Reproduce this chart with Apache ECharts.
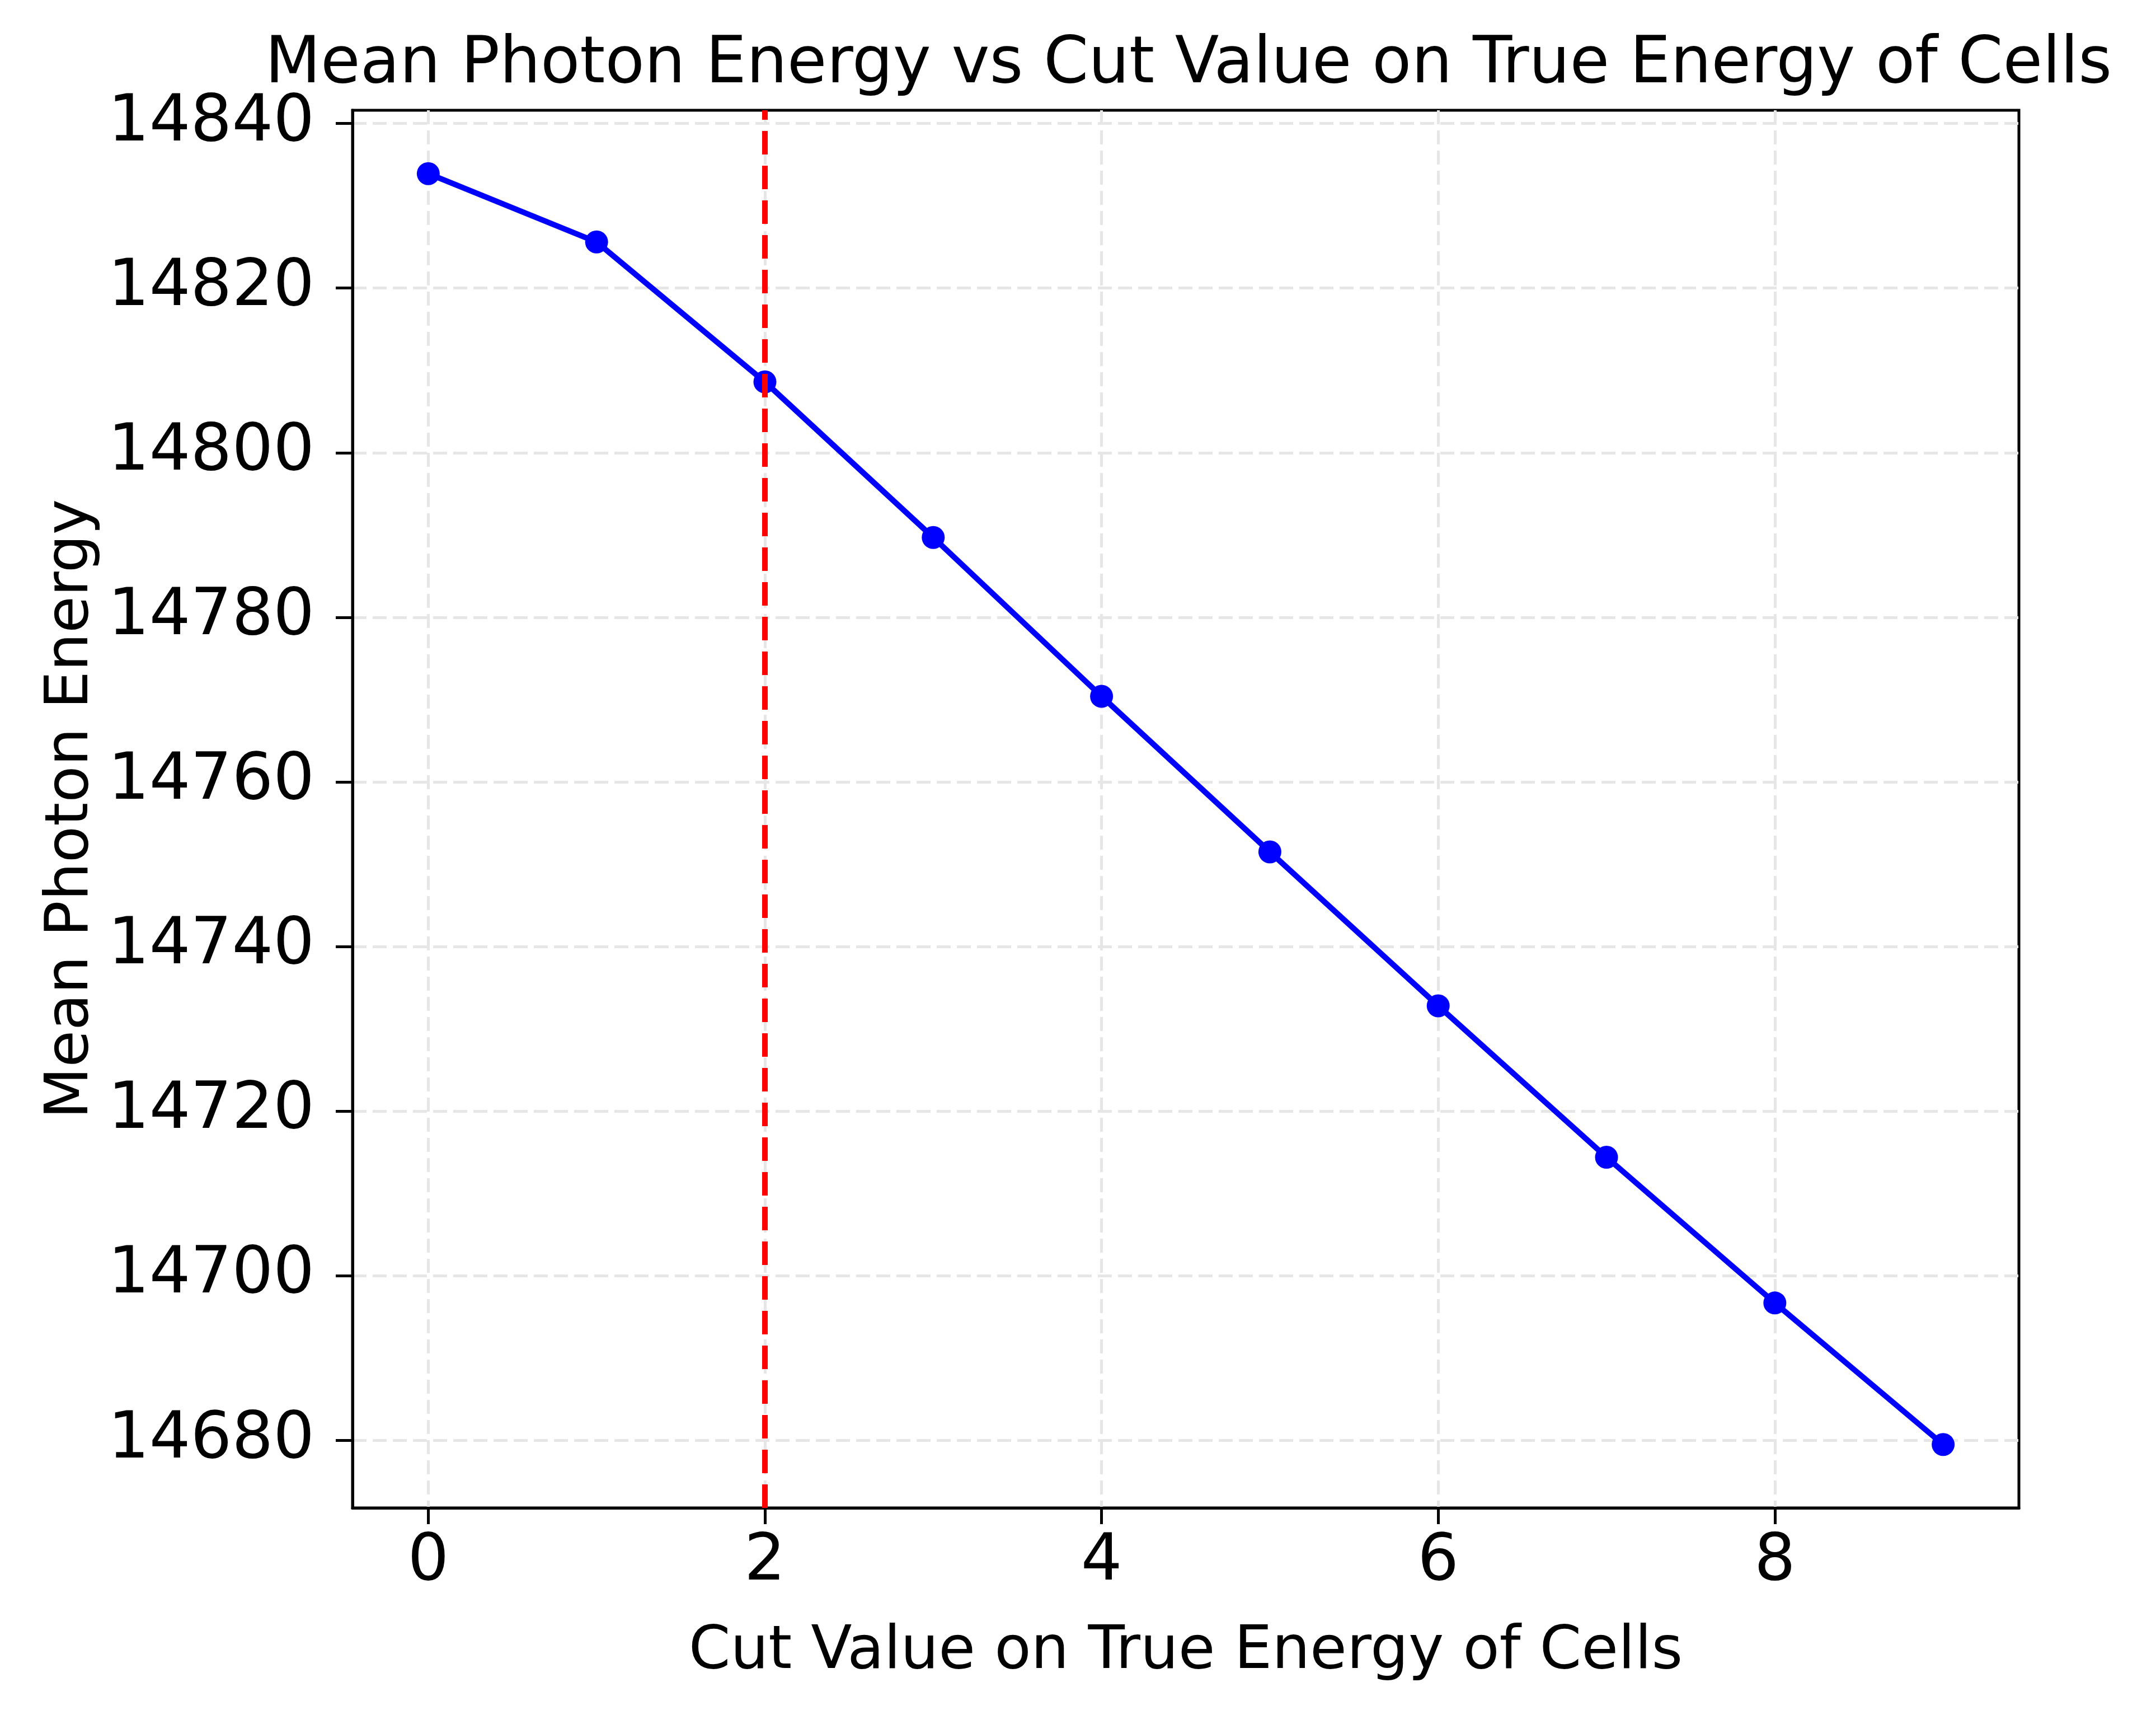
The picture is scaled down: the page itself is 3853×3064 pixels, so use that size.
<!DOCTYPE html>
<html>
<head>
<meta charset="utf-8">
<title>Mean Photon Energy vs Cut Value</title>
<script src="https://cdn.jsdelivr.net/npm/echarts@6/dist/echarts.min.js"></script>
<style>
    html, body { margin: 0; padding: 0; background: #fff; }
    #chart { width: 3853px; height: 3064px; }
</style>
</head>
<body>
<div id="chart"></div>
<script>
// values
const cutValues = [0, 1, 2, 3, 4, 5, 6, 7, 8, 9];
const meanEnergy = [14833.9, 14825.6, 14808.6, 14789.7, 14770.4, 14751.5, 14732.8, 14714.4, 14696.7, 14679.5];
const xTicks = [0, 2, 4, 6, 8];
const yTicks = [14680, 14700, 14720, 14740, 14760, 14780, 14800, 14820, 14840];
const chosenCut = 2;

const points = cutValues.map(function (x, i) {
    return [x, meanEnergy[i]];
});

const chart = echarts.init(document.getElementById('chart'));

const gridLine = {
    show: true,
    lineStyle: { color: '#e6e6e6', width: 5, type: [25, 11] }
};

chart.setOption({
    animation: false,
    backgroundColor: '#ffffff',
    textStyle: { fontFamily: 'DejaVu Sans', color: '#000' },
    title: {
        text: 'Mean Photon Energy vs Cut Value on True Energy of Cells',
        left: 2119,
        top: 55,
        textAlign: 'center',
        textStyle: { fontFamily: 'DejaVu Sans', fontWeight: 'normal', fontSize: 115, color: '#000' }
    },
    grid: {
        left: 630,
        right: 245,
        top: 197,
        bottom: 370,
        show: true,
        borderColor: '#000',
        borderWidth: 5
    },
    xAxis: {
        type: 'value',
        min: -0.45,
        max: 9.45,
        name: 'Cut Value on True Energy of Cells',
        nameLocation: 'middle',
        nameGap: 205,
        nameTextStyle: { fontSize: 107, color: '#000' },
        axisLine: { show: true, onZero: false, lineStyle: { color: '#000', width: 5 } },
        axisTick: { show: true, length: 29, lineStyle: { color: '#000', width: 5 }, customValues: xTicks },
        axisLabel: { fontSize: 116, color: '#000', margin: 40, customValues: xTicks },
        splitLine: gridLine
    },
    yAxis: {
        type: 'value',
        min: 14671.8,
        max: 14841.6,
        name: 'Mean Photon Energy',
        nameLocation: 'middle',
        nameGap: 440,
        nameTextStyle: { fontSize: 107, color: '#000' },
        axisLine: { show: true, onZero: false, lineStyle: { color: '#000', width: 5 } },
        axisTick: { show: true, length: 30, lineStyle: { color: '#000', width: 5 }, customValues: yTicks },
        axisLabel: {
            fontSize: 116, color: '#000', margin: 68, customValues: yTicks,
            formatter: function (v) { return String(v); }
        },
        splitLine: gridLine
    },
    series: [{
        type: 'line',
        data: points,
        symbol: 'circle',
        symbolSize: 41,
        itemStyle: { color: '#0000ff' },
        lineStyle: { color: '#0000ff', width: 10 },
        markLine: {
            silent: true,
            symbol: 'none',
            label: { show: false },
            lineStyle: { color: '#ff0000', width: 10, type: [42, 20] },
            data: [{ xAxis: chosenCut }]
        },
        z: 3
    }]
});
</script>
</body>
</html>
